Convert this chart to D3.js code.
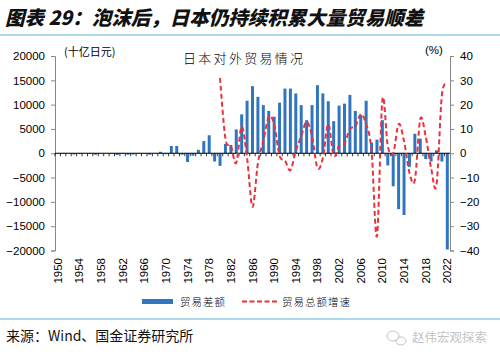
<!DOCTYPE html>
<html>
<head>
<meta charset="utf-8">
<script src="https://cdn.jsdelivr.net/npm/d3@7"></script>
<style>
  body { margin: 0; background: #fff; }
  svg { display: block; }
</style>
</head>
<body>
<div id="chart"></div>
<script>
// years on the category axis
var years = d3.range(1950, 2023);
var tickYears = [1950, 1954, 1958, 1962, 1966, 1970, 1974, 1978, 1982, 1986, 1990, 1994, 1998, 2002, 2006, 2010, 2014, 2018, 2022];

// trade balance, billion yen (贸易差额)
var balance = [
  -50, -150, -100, -250, -150, -50, -100, -300, -80, -40,
  -100, -350, -150, -300, -250, -100, -80, -300, -60, 300,
  -200, 1500, 1500, -300, -1800, -500, 700, 2500, 3700, -1700,
  -2600, 1900, 1700, 4900, 8000, 10800, 13800, 11600, 9900, 8700,
  7500, 10400, 13300, 13300, 12300, 9900, 6800, 9900, 14000, 12300,
  10700, 6600, 9800, 10200, 12000, 8700, 7900, 10800, 2200, 2800,
  6800, -2500, -6800, -11500, -12700, -2800, 4000, 3000, -1200, -1700,
  600, -1700, -19800
];

// total trade growth, % (贸易总额增速), from 1980
var growthYears = d3.range(1980, 2023);
var growth = [
  31, 6, 3, -4, 11, -2, -22, -4, 5, 15,
  12, -1, -3, -7, 1, 7, 13, 7, -6, -2,
  12, -1, 3, 4, 10, 11, 16, 12, 1, -34,
  22, 3, 0, 12, 5, -8, -11, 14, 7, -6,
  -13, 24, 28
];

var leftTicks = [-20000, -15000, -10000, -5000, 0, 5000, 10000, 15000, 20000];
var rightTicks = [-40, -30, -20, -10, 0, 10, 20, 30, 40];

var W = 500, H = 361;
var blue = "#2f75c0", red = "#e8323c", lineBlue = "#8fcbe6";
var numFont = "'Liberation Sans', Arial, sans-serif";
var cjk = "'Noto Sans CJK SC', sans-serif";

var svg = d3.select("#chart").append("svg")
  .attr("width", W).attr("height", H);

// title
svg.append("text")
  .attr("x", 5).attr("y", 25)
  .attr("font-family", cjk)
  .attr("font-weight", 900)
  .attr("font-style", "italic")
  .attr("font-size", 19.5)
  .attr("fill", "#111")
  .text("图表 29：泡沫后，日本仍持续积累大量贸易顺差");

svg.append("line").attr("x1", 0).attr("x2", W).attr("y1", 35).attr("y2", 35)
  .attr("stroke", lineBlue).attr("stroke-width", 1.5);
svg.append("line").attr("x1", 0).attr("x2", W).attr("y1", 319).attr("y2", 319)
  .attr("stroke", lineBlue).attr("stroke-width", 1.5);

// scales
var x = d3.scaleBand().domain(years).range([55, 450]).paddingInner(0.45).paddingOuter(0.22);
var y = d3.scaleLinear().domain([-20000, 20000]).range([250.5, 56]);
var y2 = d3.scaleLinear().domain([-40, 40]).range([250.5, 56]);

// bars
svg.append("g").selectAll("rect")
  .data(years)
  .enter()
  .append("rect")
  .attr("x", d => x(d))
  .attr("width", x.bandwidth())
  .attr("y", (d, i) => y(Math.max(0, balance[i])))
  .attr("height", (d, i) => Math.abs(y(balance[i]) - y(0)))
  .attr("fill", blue);

// left axis
var yAxis = d3.axisLeft(y).tickValues(leftTicks).tickFormat(d3.format("d")).tickSize(4).tickPadding(6);
var gl = svg.append("g").attr("transform", "translate(55,0)").call(yAxis);
gl.select(".domain").attr("stroke", "#888");
gl.selectAll(".tick line").attr("stroke", "#888");
gl.selectAll("text").attr("font-family", numFont).attr("font-size", 11.5).attr("fill", "#000");

// right axis
var y2Axis = d3.axisRight(y2).tickValues(rightTicks).tickFormat(d3.format("d")).tickSize(4).tickPadding(6);
var gr = svg.append("g").attr("transform", "translate(450,0)").call(y2Axis);
gr.select(".domain").attr("stroke", "#888");
gr.selectAll(".tick line").attr("stroke", "#888");
gr.selectAll("text").attr("font-family", numFont).attr("font-size", 11.5).attr("fill", "#000");

// x axis on zero line
var step = x.step();
var gx = svg.append("g").attr("transform", "translate(0," + y(0) + ")");
gx.append("line").attr("x1", 55).attr("x2", 450).attr("y1", 0).attr("y2", 0)
  .attr("stroke", "#000").attr("stroke-width", 1);
gx.selectAll(".yt")
  .data(years)
  .enter()
  .append("line")
  .attr("x1", d => x(d) + x.bandwidth() / 2 - step / 2)
  .attr("x2", d => x(d) + x.bandwidth() / 2 - step / 2)
  .attr("y1", 0).attr("y2", 3)
  .attr("stroke", "#000").attr("stroke-width", 0.8);

// year labels at bottom
svg.append("g").selectAll("text")
  .data(tickYears)
  .enter()
  .append("text")
  .attr("transform", d => "translate(" + (x(d) + x.bandwidth() / 2) + ",258) rotate(-90)")
  .attr("text-anchor", "end")
  .attr("dy", "0.35em")
  .attr("font-family", numFont)
  .attr("font-size", 11.5)
  .attr("fill", "#000")
  .text(d => d);

// growth line
var line = d3.line()
  .x(d => x(d[0]) + x.bandwidth() / 2)
  .y(d => y2(d[1]))
  .curve(d3.curveCatmullRom.alpha(0));
svg.append("path")
  .datum(growthYears.map((yr, i) => [yr, growth[i]]))
  .attr("d", line)
  .attr("fill", "none")
  .attr("stroke", red)
  .attr("stroke-width", 2)
  .attr("stroke-dasharray", "5,3");

// unit labels and inner title
svg.append("text").attr("x", 64).attr("y", 56)
  .attr("font-family", cjk).attr("font-size", 11).attr("fill", "#000")
  .text("(十亿日元)");
svg.append("text").attr("x", 425).attr("y", 54)
  .attr("font-family", numFont).attr("font-size", 11.5).attr("fill", "#000")
  .text("(%)");
svg.append("text").attr("x", 183).attr("y", 63)
  .attr("font-family", cjk).attr("font-size", 13).attr("letter-spacing", 2.3)
  .attr("font-weight", 300).attr("fill", "#000")
  .text("日本对外贸易情况");

// legend
var lg = svg.append("g");
lg.append("rect").attr("x", 142).attr("y", 299).attr("width", 31).attr("height", 5).attr("fill", blue);
lg.append("text").attr("x", 180).attr("y", 305.5)
  .attr("font-family", cjk).attr("font-size", 10.5).attr("letter-spacing", 1)
  .attr("font-weight", 300).text("贸易差额");
lg.append("line").attr("x1", 242).attr("x2", 277).attr("y1", 301.5).attr("y2", 301.5)
  .attr("stroke", red).attr("stroke-width", 2).attr("stroke-dasharray", "5,2.5");
lg.append("text").attr("x", 282).attr("y", 305.5)
  .attr("font-family", cjk).attr("font-size", 10.5).attr("letter-spacing", 1)
  .attr("font-weight", 300).text("贸易总额增速");

// source + watermark
svg.append("text").attr("x", 6).attr("y", 341)
  .attr("font-family", cjk).attr("font-size", 14).attr("fill", "#111")
  .text("来源：Wind、国金证券研究所");
var wm = svg.append("g").attr("fill", "none").attr("stroke", "#c4c4c4").attr("stroke-width", 1);
wm.append("ellipse").attr("cx", 393).attr("cy", 336).attr("rx", 6).attr("ry", 5);
wm.append("ellipse").attr("cx", 401).attr("cy", 341).attr("rx", 5).attr("ry", 4);
svg.append("text").attr("x", 412).attr("y", 342)
  .attr("font-family", cjk).attr("font-size", 12.5).attr("fill", "#c4c4c4")
  .text("赵伟宏观探索");
</script>
</body>
</html>
